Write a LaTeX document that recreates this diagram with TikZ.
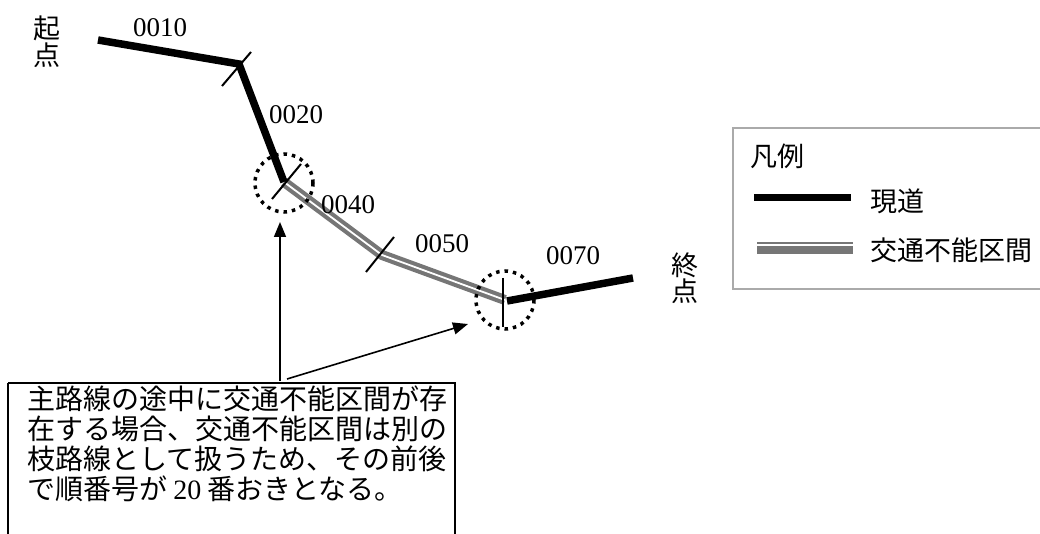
\documentclass[tikz,border=0pt]{standalone}
\usepackage{fontspec}
\setmainfont{Liberation Serif}
\newfontfamily\cjk{Noto Sans CJK JP}
\usetikzlibrary{arrows.meta,calc}
\definecolor{roadgray}{RGB}{118,118,118}
\definecolor{legendframe}{RGB}{170,170,170}
\begin{document}
\begin{tikzpicture}[x=1pt,y=-1pt,
  road/.style={line width=7.5pt,black},
  blockedroad/.style={line width=10pt,roadgray},
  blockedgap/.style={line width=1.8pt,white},
  tick/.style={line width=2pt,black},
  ring/.style={circle,draw,line width=3.5pt,dash pattern=on 3.5pt off 5pt,minimum size=58pt,inner sep=0pt},
  numlbl/.style={font=\fontsize{27}{30}\selectfont,inner sep=0pt},
  jplbl/.style={font=\cjk\fontsize{27}{30}\selectfont,inner sep=0pt},
  arr/.style={line width=1.6pt,-{Triangle[length=15pt,width=12pt]}},
]
\useasboundingbox (0,0) rectangle (1040,534);
% route points
\coordinate (p0) at (98,40);
\coordinate (p1) at (239,64);
\coordinate (p2) at (284,182);
\coordinate (p3) at (382,255);
\coordinate (p4) at (505,300);
\coordinate (p4b) at (507,301);
\coordinate (p5) at (633,278);
% blocked section (double gray)
\draw[blockedroad] (p2) -- (p3) -- (p4);
\draw[blockedgap,yshift=-2.5pt] (p2) -- (p3) -- (p4);
% current road
\draw[road] (p0) -- (p1) -- (p2);
\draw[road] (p4b) -- (p5);
% ticks
\draw[tick] ($(p1)+(-17,22)$) -- ($(p1)+(12,-12)$);
\draw[tick] ($(p2)+(-12,17)$) -- ($(p2)+(17,-18)$);
\draw[tick] ($(p3)+(-16,17)$) -- ($(p3)+(12,-18)$);
\draw[tick] ($(p4)+(-2,-22)$) -- ($(p4)+(-2,27)$);
% dotted rings
\node[ring] (c1) at (284,183) {};
\node[ring] (c2) at (505,300) {};
% labels
\node[jplbl] (start1) at (47,28) {起};
\node[jplbl] (start2) at (47,55) {点};
\node[jplbl] (end1) at (685,265) {終};
\node[jplbl] (end2) at (685,291) {点};
\node[numlbl] (l10) at (160,28) {0010};
\node[numlbl] (l20) at (296,115) {0020};
\node[numlbl] (l40) at (348,205) {0040};
\node[numlbl] (l50) at (442,244) {0050};
\node[numlbl] (l70) at (573,256) {0070};
% legend
\draw[legendframe,line width=1.2pt] (733,128) rectangle (1050,289);
\node[jplbl] (lgtitle) at (777,156) {凡例};
\coordinate (lg1a) at (754,198);
\coordinate (lg1b) at (851,198);
\draw[line width=7pt,black] (lg1a) -- (lg1b);
\node[jplbl,anchor=west] (lgroad) at (870,201) {現道};
\coordinate (lg2a) at (757,248);
\coordinate (lg2b) at (853,248);
\draw[line width=12pt,roadgray] (lg2a) -- (lg2b);
\draw[line width=2pt,white] ($(lg2a)+(0,-3)$) -- ($(lg2b)+(0,-3)$);
\node[jplbl,anchor=west] (lgblock) at (870,250) {交通不能区間};
% note box
\draw[line width=1.5pt] (8,383) -- (455,383) -- (455,560);
\draw[line width=1.5pt] (8,383) -- (8,560);
\coordinate (a1s) at (280,381);
\coordinate (a1e) at (280,222);
\coordinate (a2s) at (287,379);
\coordinate (a2e) at (468,324);
\draw[arr] (a1s) -- (a1e);
\draw[arr] (a2s) -- (a2e);
\node[font=\cjk\fontsize{28}{28.3}\selectfont,inner sep=0pt,anchor=north west,align=left] (note) at (27,386)
 {主路線の途中に交通不能区間が存\\[1.5pt]在する場合、交通不能区間は別の\\[1.5pt]枝路線として扱うため、その前後\\[1.5pt]で順番号が \textrm{20} 番おきとなる。};
\end{tikzpicture}
\end{document}
